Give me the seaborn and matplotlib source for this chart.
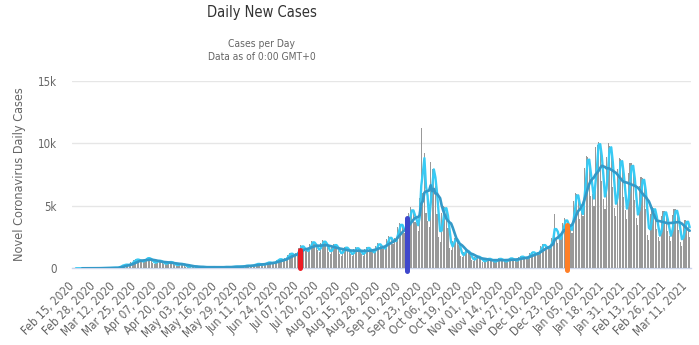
import numpy as np
import pandas as pd
import matplotlib
matplotlib.use("Agg")
import matplotlib.pyplot as plt
import seaborn as sns

# ---------------- data ----------------
# daily new cases, one value per day starting Feb 15, 2020
daily_cases = [
    0, 0,
    0, 0, 0, 0, 0, 0, 1,
    4, 4, 6, 6, 7, 5, 4,
    12, 11, 17, 18, 17, 16, 14,
    32, 29, 44, 49, 46, 44, 37,
    200, 180, 275, 305, 288, 275, 232,
    480, 432, 660, 730, 690, 660, 558,
    560, 504, 770, 850, 805, 770, 651,
    416, 374, 572, 630, 598, 572, 484,
    344, 310, 473, 520, 494, 473, 400,
    240, 216, 330, 365, 345, 330, 279,
    120, 108, 165, 182, 172, 165, 140,
    72, 65, 99, 110, 103, 99, 84,
    64, 58, 88, 97, 92, 88, 74,
    72, 65, 99, 110, 103, 99, 84,
    96, 86, 132, 146, 138, 132, 112,
    144, 130, 198, 220, 207, 198, 167,
    240, 216, 330, 365, 345, 330, 279,
    320, 288, 440, 490, 460, 440, 372,
    496, 446, 682, 760, 713, 682, 577,
    800, 720, 1100, 1230, 1150, 1100, 930,
    1200, 1080, 1650, 1850, 1725, 1650, 1395,
    1440, 1296, 1980, 2150, 2090, 1960, 1674,
    1472, 1325, 2024, 2240, 2100, 2024, 1711,
    1280, 1152, 1760, 1950, 1840, 1760, 1488,
    1136, 1022, 1562, 1730, 1633, 1562, 1321,
    1104, 994, 1518, 1690, 1587, 1518, 1283,
    1120, 1008, 1540, 1710, 1610, 1540, 1302,
    1320, 1188, 1815, 2010, 1898, 1815, 1535,
    1680, 1512, 2310, 2560, 2415, 2310, 1953,
    2400, 2160, 3300, 3650, 3450, 3300, 2790,
    3200, 2880, 4400, 4870, 4600, 4400, 3720,
    3600, 3000, 5600, 11200, 6000, 9200, 4400,
    3800, 3300, 8500, 7900, 7300, 6600, 4300,
    2500, 2100, 4400, 5000, 4900, 4500, 3200,
    1600, 1440, 2200, 2440, 2300, 2200, 1860,
    960, 864, 1320, 1470, 1380, 1320, 1116,
    640, 576, 880, 975, 920, 880, 744,
    520, 468, 715, 790, 748, 715, 605,
    515, 470, 720, 785, 745, 712, 600,
    544, 490, 748, 830, 782, 748, 632,
    640, 576, 880, 975, 920, 880, 744,
    880, 792, 1210, 1340, 1265, 1210, 1023,
    1280, 1152, 1760, 1950, 1840, 1760, 1488,
    1760, 1584, 2420, 2680, 4300, 2420, 2046,
    2640, 2376, 3630, 4020, 3795, 3630, 3069,
    3290, 2820, 5405, 6016, 5969, 5499, 3901,
    4900, 4200, 8050, 8960, 8890, 8190, 5810,
    5900, 5000, 9700, 9850, 10100, 9800, 7000,
    5500, 4700, 8900, 10000, 9800, 9200, 6500,
    4830, 4140, 7935, 8832, 8763, 8073, 5727,
    4620, 3960, 7590, 8448, 8382, 7722, 5478,
    3990, 3420, 6555, 7296, 7239, 6669, 4731,
    2660, 2280, 4370, 4864, 4826, 4446, 3154,
    2520, 2160, 4140, 4608, 4572, 4212, 2988,
    2590, 2220, 4255, 4736, 4699, 4329, 3071,
    2100, 1800, 3450, 3840, 3810, 3510, 2490,
]

tick_step = 13
tick_labels = [
    "Feb 15, 2020", "Feb 28, 2020", "Mar 12, 2020", "Mar 25, 2020",
    "Apr 07, 2020", "Apr 20, 2020", "May 03, 2020", "May 16, 2020",
    "May 29, 2020", "Jun 11, 2020", "Jun 24, 2020", "Jul 07, 2020",
    "Jul 20, 2020", "Aug 02, 2020", "Aug 15, 2020", "Aug 28, 2020",
    "Sep 10, 2020", "Sep 23, 2020", "Oct 06, 2020", "Oct 19, 2020",
    "Nov 01, 2020", "Nov 14, 2020", "Nov 27, 2020", "Dec 10, 2020",
    "Dec 23, 2020", "Jan 05, 2021", "Jan 18, 2021", "Jan 31, 2021",
    "Feb 13, 2021", "Feb 26, 2021", "Mar 11, 2021",
]

# hand-drawn highlight marks (day index, top value, bottom value)
marker_days = [145, 213, 315]
marker_tops = [1450, 4000, 3450]
marker_bottoms = [0, -200, -150]
marker_colors = ["#ed1c24", "#3f48cc", "#ff7f27"]

y_ticks = [0, 5000, 10000, 15000]
y_tick_labels = ["0", "5k", "10k", "15k"]

# ---------------- styling ----------------
sns.set_theme(style="white")
plt.rcParams["font.family"] = ["DejaVu Sans"]
plt.rcParams["font.stretch"] = "condensed"

df = pd.DataFrame({"day": np.arange(len(daily_cases)), "cases": daily_cases})
df["ma3"] = df["cases"].rolling(3).mean()
df["ma7"] = df["cases"].rolling(7).mean()

W, H = 699, 345
fig = plt.figure(figsize=(W / 100, H / 100), dpi=100)
x0, x1, ytop, ybot = 72, 690.5, 80.5, 268.3
ax = fig.add_axes([x0 / W, (H - ybot) / H, (x1 - x0) / W, (ybot - ytop) / H])

sns.barplot(data=df, x="day", y="cases", native_scale=True, width=0.72,
            color="#999999", saturation=1, linewidth=0, errorbar=None, ax=ax,
            zorder=2)
sns.lineplot(data=df, x="day", y="ma3", color="#38caf4", linewidth=1.7,
             ax=ax, zorder=3)
sns.lineplot(data=df, x="day", y="ma7", color="#3399c8", linewidth=1.9,
             ax=ax, zorder=4)

ax.vlines(marker_days, marker_bottoms, marker_tops, colors=marker_colors,
          linewidth=3.6, zorder=5, clip_on=False, capstyle="round")

ax.set_xlim(-0.5, len(daily_cases) - 0.5)
ax.set_ylim(0, 15000)
ax.set_yticks(y_ticks)
ax.set_yticklabels(y_tick_labels)
ax.set_xticks(np.arange(len(tick_labels)) * tick_step)
ax.set_xticklabels(tick_labels, rotation=45, ha="right",
                   rotation_mode="anchor", va="center")

ax.yaxis.grid(True, color="#e6e6e6", linewidth=1, zorder=0)
ax.xaxis.grid(False)
ax.set_axisbelow(True)
for s in ["top", "right", "left"]:
    ax.spines[s].set_visible(False)
ax.spines["bottom"].set_color("#ccd6eb")
ax.spines["bottom"].set_linewidth(1)
ax.spines["bottom"].set_zorder(1)
ax.tick_params(axis="y", length=0, pad=11, labelsize=8.3, labelcolor="#666666")
ax.tick_params(axis="x", length=0, pad=11.5, labelsize=8.4, labelcolor="#666666")
ax.set_xlabel("")
ax.set_ylabel("")

fig.text(20 / W, 1 - 174 / H, "Novel Coronavirus Daily Cases", rotation=90,
         ha="center", va="center", fontsize=9.1, color="#666666")
fig.text(262 / W, 1 - 13 / H, "Daily New Cases", ha="center", va="center",
         fontsize=10.5, color="#333333")
fig.text(262 / W, 1 - 44 / H, "Cases per Day", ha="center", va="center",
         fontsize=7.4, color="#666666")
fig.text(262 / W, 1 - 57.5 / H, "Data as of 0:00 GMT+0", ha="center",
         va="center", fontsize=7.4, color="#666666")

fig.savefig("out.png", dpi=100, facecolor="white")
